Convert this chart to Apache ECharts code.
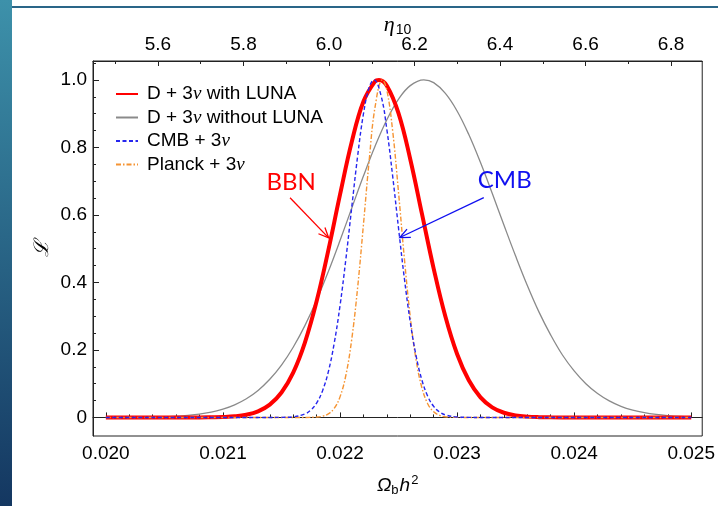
<!DOCTYPE html>
<html>
<head>
<meta charset="utf-8">
<script src="https://cdn.jsdelivr.net/npm/echarts@6/dist/echarts.min.js"></script>
<style>html,body{margin:0;padding:0;background:#fff;}#c{width:718px;height:506px;}</style>
</head>
<body>
<div id="c"></div>
<script>
// ---- data (Omega_b h^2 vs likelihood) ----
const seriesNames = ['D + 3ν with LUNA', 'D + 3ν without LUNA', 'CMB + 3ν', 'Planck + 3ν'];

const omegaRed = [0.0200,0.0208,0.0209,0.0210,0.0211,0.0212,0.0213,0.0214,0.0215,0.0216,0.0217,0.0218,0.0219,0.0220,0.0221,0.0222,0.0223,0.022333,0.0224,0.0225,0.0226,0.0227,0.0228,0.0229,0.0230,0.0231,0.0232,0.0233,0.0234,0.0235,0.0236,0.0237,0.0238,0.0240,0.0250];
const likeRed  = [0,0,0.0005,0.0013,0.0033,0.0081,0.0182,0.0381,0.074,0.133,0.222,0.344,0.495,0.660,0.816,0.936,0.996,1.0,0.983,0.901,0.765,0.603,0.441,0.299,0.188,0.110,0.0596,0.030,0.0139,0.006,0.0024,0.0008,0.0002,0,0];

const omegaGray = [0.0200,0.0203,0.0205,0.0207,0.0209,0.0210,0.0211,0.0212,0.0213,0.0214,0.0215,0.0216,0.0217,0.0218,0.0219,0.0220,0.0221,0.0222,0.0223,0.0224,0.0225,0.0226,0.022716,0.0228,0.0229,0.0230,0.0231,0.0232,0.0233,0.0234,0.0235,0.0236,0.0237,0.0238,0.0239,0.0240,0.0241,0.0242,0.0243,0.0244,0.0245,0.0246,0.0247,0.0248,0.0249,0.0250];
const likeGray  = [0,0.0006,0.002,0.006,0.0157,0.0245,0.0373,0.0553,0.080,0.113,0.155,0.208,0.272,0.347,0.432,0.524,0.620,0.715,0.804,0.882,0.943,0.983,1.0,0.992,0.960,0.908,0.838,0.755,0.664,0.570,0.478,0.391,0.312,0.244,0.185,0.138,0.100,0.0709,0.049,0.033,0.0218,0.014,0.0088,0.0054,0.0032,0.0019];

const omegaCMB = [0.0200,0.0214,0.0215,0.0216,0.0217,0.02175,0.0218,0.02185,0.0219,0.02195,0.0220,0.02205,0.0221,0.02215,0.0222,0.02225,0.02229,0.02235,0.0224,0.02245,0.0225,0.02255,0.0226,0.02265,0.0227,0.02275,0.0228,0.02285,0.0229,0.0230,0.0231,0.0232,0.0250];
const likeCMB  = [0,0,0.0003,0.0019,0.0103,0.0216,0.0426,0.0784,0.135,0.219,0.331,0.469,0.622,0.773,0.899,0.979,1.0,0.954,0.853,0.714,0.560,0.411,0.283,0.182,0.110,0.062,0.0327,0.0162,0.0075,0.0013,0.0002,0,0];

const omegaPlanck = [0.0200,0.0217,0.0218,0.02185,0.0219,0.02195,0.0220,0.02205,0.0221,0.02215,0.0222,0.02225,0.0223,0.022362,0.0224,0.02245,0.0225,0.02255,0.0226,0.02265,0.0227,0.02275,0.0228,0.02285,0.0229,0.0230,0.0231,0.0250];
const likePlanck  = [0,0,0.0012,0.0037,0.0105,0.0266,0.0609,0.125,0.231,0.383,0.571,0.765,0.921,1.0,0.970,0.848,0.666,0.470,0.298,0.170,0.0872,0.040,0.0166,0.0062,0.0021,0.0001,0,0];

// ---- tick values ----
const xMajor = [0.020,0.021,0.022,0.023,0.024,0.025];
const xMinor = [0.0202,0.0204,0.0206,0.0208,0.0212,0.0214,0.0216,0.0218,0.0222,0.0224,0.0226,0.0228,0.0232,0.0234,0.0236,0.0238,0.0242,0.0244,0.0246,0.0248];
const etaMajor = [5.6,5.8,6.0,6.2,6.4,6.6,6.8];
const etaMinor = [5.5,5.7,5.9,6.1,6.3,6.5,6.7];
const yMajor = [0,0.2,0.4,0.6,0.8,1.0];
const yMinor = [0.05,0.1,0.15,0.25,0.3,0.35,0.45,0.5,0.55,0.65,0.7,0.75,0.85,0.9,0.95,1.05];

// ---- annotations (data coordinates) ----
const annotations = [
  {text:'BBN', color:'#ff0000', label:[0.021582,0.698], from:[0.021573,0.651], to:[0.021903,0.532]},
  {text:'CMB', color:'#1010f0', label:[0.023407,0.704], from:[0.023228,0.651], to:[0.022511,0.533]}
];

const FONT = 'Liberation Sans, Arial, Helvetica, sans-serif';
const xMin = 0.01989, xMax = 0.025094;
const etaMin = 5.448, etaMax = 6.873;
const yMin = -0.055, yMax = 1.056;

function pairs(xs, ys){ return xs.map((x,i)=>[x, ys[i]]); }

const chart = echarts.init(document.getElementById('c'), null, {renderer:'canvas'});
const lblStyle = {color:'#000', fontSize:19, fontFamily:FONT};
const tickStyle = {color:'#222', width:1};

chart.setOption({
  animation:false,
  backgroundColor:'#fff',
  grid:{left:93, right:13, top:61, bottom:68, show:true, borderColor:'#222', borderWidth:1, backgroundColor:'transparent'},
  legend:{
    orient:'vertical', left:115, top:84, padding:0,
    itemWidth:22, itemHeight:14, itemGap:3.5,
    data:seriesNames,
    itemStyle:{opacity:0},
    textStyle:{color:'#000', fontSize:19, fontFamily:FONT, lineHeight:20, padding:[0,0,0,4],
      rich:{i:{fontStyle:'italic', fontSize:19, fontFamily:'Liberation Serif, serif', lineHeight:20}}},
    formatter:function(n){ return n.replace('ν','{i|ν}'); }
  },
  xAxis:[
    {type:'value', min:xMin, max:xMax, position:'bottom',
     axisLine:{show:true, lineStyle:{color:'#222'}},
     axisTick:{show:true, inside:true, length:5, lineStyle:tickStyle, customValues:xMajor},
     axisLabel:Object.assign({margin:8, customValues:xMajor, formatter:v=>v.toFixed(3)}, lblStyle),
     splitLine:{show:false},
     name:'{i|Ω}{sub|b}{i|h}{sup|2}', nameLocation:'middle', nameGap:35, nameMoveOverlap:false,
     nameTextStyle:{color:'#000', fontFamily:FONT, rich:{
       i:{fontStyle:'italic', fontSize:19, fontFamily:FONT, lineHeight:30, verticalAlign:'middle', color:'#000'},
       sub:{fontSize:13, fontFamily:FONT, lineHeight:13, verticalAlign:'bottom', padding:[0,1,4,0], color:'#000'},
       sup:{fontSize:13, fontFamily:FONT, lineHeight:13, verticalAlign:'top', padding:[3,0,0,1], color:'#000'}}}
    },
    {type:'value', min:xMin, max:xMax, position:'bottom',
     axisLine:{show:false}, axisTick:{show:true, inside:true, length:3, lineStyle:tickStyle, customValues:xMinor},
     axisLabel:{show:false}, splitLine:{show:false}},
    {type:'value', min:etaMin, max:etaMax, position:'top',
     axisLine:{show:true, lineStyle:{color:'#222'}},
     axisTick:{show:true, inside:true, length:5, lineStyle:tickStyle, customValues:etaMajor},
     axisLabel:Object.assign({margin:7, customValues:etaMajor, formatter:v=>v.toFixed(1)}, lblStyle),
     splitLine:{show:false},
     name:'{i|η}{sub|10}', nameLocation:'middle', nameGap:21, nameMoveOverlap:false,
     nameTextStyle:{color:'#000', fontFamily:FONT, rich:{
       i:{fontStyle:'italic', fontSize:22, fontFamily:'Liberation Serif, serif', lineHeight:30, verticalAlign:'middle', color:'#000'},
       sub:{fontSize:14, fontFamily:FONT, lineHeight:14, verticalAlign:'bottom', padding:[0,0,3,1], color:'#000'}}}
    },
    {type:'value', min:etaMin, max:etaMax, position:'top',
     axisLine:{show:false}, axisTick:{show:true, inside:true, length:3, lineStyle:tickStyle, customValues:etaMinor},
     axisLabel:{show:false}, splitLine:{show:false}}
  ],
  yAxis:[
    {type:'value', min:yMin, max:yMax, position:'left',
     axisLine:{show:true, lineStyle:{color:'#222'}},
     axisTick:{show:true, inside:true, length:6, lineStyle:tickStyle, customValues:yMajor},
     axisLabel:Object.assign({margin:6, customValues:yMajor, formatter:v=> (v===0?'0':v.toFixed(1))}, lblStyle),
     splitLine:{show:false},
     name:'ℒ', nameLocation:'middle', nameGap:40, nameMoveOverlap:false,
     nameTextStyle:{color:'#000', fontSize:20, fontStyle:'italic', fontFamily:'DejaVu Serif, serif'}
    },
    {type:'value', min:yMin, max:yMax, position:'left', offset:0,
     axisLine:{show:false}, axisTick:{show:true, inside:true, length:3, lineStyle:tickStyle, customValues:yMinor},
     axisLabel:{show:false}, splitLine:{show:false}}
  ],
  series:[
    {name:seriesNames[0], type:'line', xAxisIndex:0, yAxisIndex:0, data:pairs(omegaRed, likeRed),
     symbol:'none', smooth:0.4, z:3, lineStyle:{color:'#ff0000', width:4}, itemStyle:{color:'#ff0000'}},
    {name:seriesNames[1], type:'line', xAxisIndex:0, yAxisIndex:0, data:pairs(omegaGray, likeGray),
     symbol:'none', smooth:0.4, z:2, lineStyle:{color:'#8a8a8a', width:1.3}, itemStyle:{color:'#8a8a8a'}},
    {name:seriesNames[2], type:'line', xAxisIndex:0, yAxisIndex:0, data:pairs(omegaCMB, likeCMB),
     symbol:'none', smooth:0.4, z:5, lineStyle:{color:'#2626ee', width:1.4, type:[4,2.5]}, itemStyle:{color:'#2626ee'}},
    {name:seriesNames[3], type:'line', xAxisIndex:0, yAxisIndex:0, data:pairs(omegaPlanck, likePlanck),
     symbol:'none', smooth:0.4, z:4, lineStyle:{color:'#f59433', width:1.4, type:[5,2,1.5,2]}, itemStyle:{color:'#f59433'}}
  ],
  graphic:[
    {id:'leftbar', type:'rect', left:0, top:0, z:100, shape:{width:12, height:506},
     style:{fill:new echarts.graphic.LinearGradient(0,0,0,1,[{offset:0,color:'#3d91aa'},{offset:1,color:'#143761'}])}},
    {id:'topline', type:'rect', left:12, top:6, z:100, shape:{width:706, height:2},
     style:{fill:'#2a6688'}}
  ]
});

// annotation arrows and labels positioned through the chart's own scales
const extra = [];
annotations.forEach((a, k)=>{
  const lp = chart.convertToPixel({seriesIndex:0}, a.label);
  const p0 = chart.convertToPixel({seriesIndex:0}, a.from);
  const p1 = chart.convertToPixel({seriesIndex:0}, a.to);
  const dx = p1[0]-p0[0], dy = p1[1]-p0[1], len = Math.hypot(dx,dy);
  const ux = dx/len, uy = dy/len, L = 11, ang = 0.42, c = Math.cos(ang), s = Math.sin(ang);
  const h1 = [p1[0] - L*(ux*c - uy*s), p1[1] - L*(uy*c + ux*s)];
  const h2 = [p1[0] - L*(ux*c + uy*s), p1[1] - L*(uy*c - ux*s)];
  extra.push({id:'txt'+k, type:'text', x:lp[0], y:lp[1], z:50,
    style:{text:a.text, fill:a.color, font:'24px Lato, "Liberation Sans", sans-serif', align:'center', verticalAlign:'middle'}});
  extra.push({id:'ln'+k, type:'line', z:50, shape:{x1:p0[0], y1:p0[1], x2:p1[0], y2:p1[1]}, style:{stroke:a.color, lineWidth:1.3}});
  extra.push({id:'hd'+k, type:'polyline', z:50, shape:{points:[h1,p1,h2]}, style:{stroke:a.color, fill:null, lineWidth:1.3}});
});
chart.setOption({graphic:extra});
</script>
</body>
</html>
